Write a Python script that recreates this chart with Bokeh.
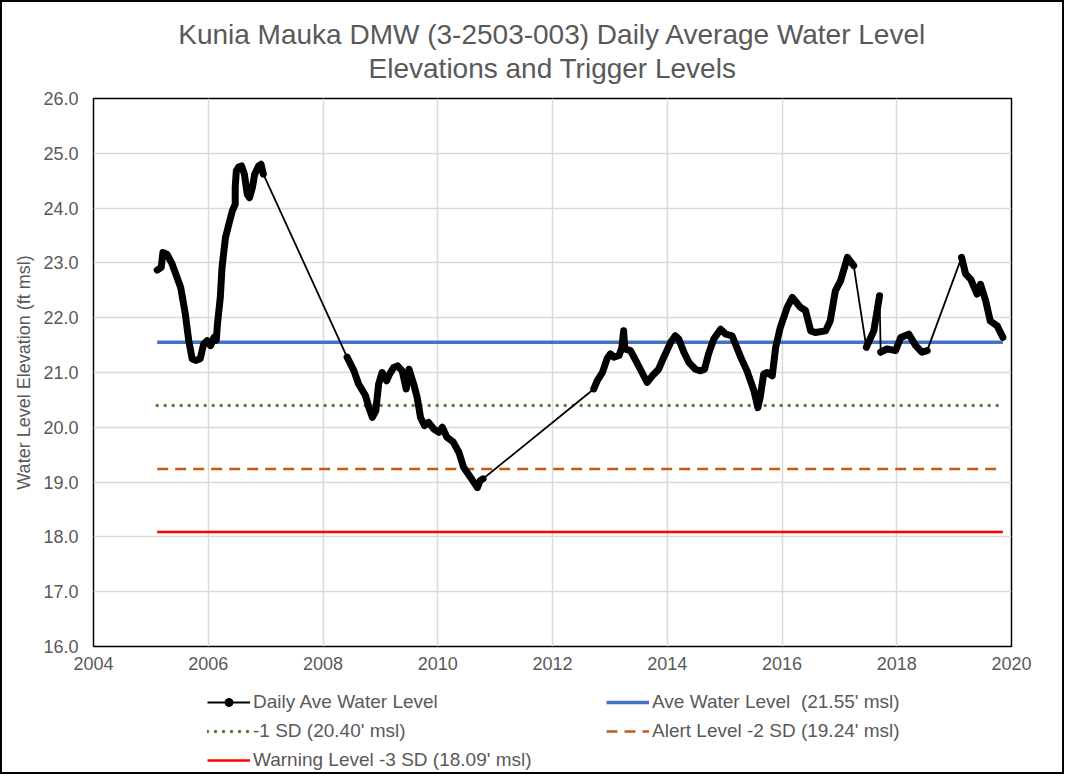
from bokeh.plotting import figure
from bokeh.layouts import column
from bokeh.models import Range1d, FixedTicker, NumeralTickFormatter, Legend, LegendItem, LinearAxis
from bokeh.embed import file_html
from bokeh.resources import INLINE

# ---------------- data ----------------
title_line1 = "Kunia Mauka DMW (3-2503-003) Daily Average Water Level"
title_line2 = "Elevations and Trigger Levels"
x_ticks = [2004, 2006, 2008, 2010, 2012, 2014, 2016, 2018, 2020]
y_ticks = [16, 17, 18, 19, 20, 21, 22, 23, 24, 25, 26]

ave_level = 21.55
sd1_level = 20.40
sd2_level = 19.24
sd3_level = 18.09

# measured daily record, split where the record has gaps (decimal year, ft msl)
seg1_year = [2005.11, 2005.18, 2005.21, 2005.28, 2005.37, 2005.52, 2005.60, 2005.66, 2005.72,
             2005.78, 2005.86, 2005.92, 2005.98, 2006.04, 2006.10, 2006.14, 2006.16, 2006.21,
             2006.24, 2006.30, 2006.36, 2006.42, 2006.47, 2006.47, 2006.49, 2006.53, 2006.58,
             2006.63, 2006.68, 2006.72, 2006.77, 2006.81, 2006.88, 2006.92, 2006.96]
seg1_level = [22.87, 22.92, 23.19, 23.16, 22.98, 22.55, 22.07, 21.58, 21.25,
              21.22, 21.25, 21.52, 21.58, 21.49, 21.64, 21.59, 21.88, 22.37,
              22.92, 23.46, 23.71, 23.95, 24.07, 24.38, 24.68, 24.75, 24.77,
              24.62, 24.25, 24.19, 24.38, 24.62, 24.77, 24.80, 24.62]

seg2_year = [2008.42, 2008.54, 2008.62, 2008.74, 2008.80, 2008.86, 2008.92, 2008.97, 2009.03,
             2009.11, 2009.16, 2009.23, 2009.30, 2009.38, 2009.45, 2009.50, 2009.58, 2009.64,
             2009.70, 2009.77, 2009.84, 2009.93, 2010.02, 2010.08, 2010.16, 2010.27, 2010.37,
             2010.45, 2010.57, 2010.69, 2010.74, 2010.79]
seg2_level = [21.28, 21.03, 20.79, 20.58, 20.36, 20.18, 20.30, 20.79, 21.00,
              20.85, 20.97, 21.09, 21.12, 21.03, 20.70, 21.06, 20.79, 20.55,
              20.18, 20.03, 20.09, 19.97, 19.91, 20.00, 19.82, 19.73, 19.54,
              19.27, 19.09, 18.90, 19.03, 19.06]

seg3_year = [2012.72, 2012.78, 2012.87, 2012.95, 2013.01, 2013.07, 2013.16, 2013.21, 2013.24,
             2013.26, 2013.36, 2013.45, 2013.56, 2013.65, 2013.74, 2013.85, 2013.94, 2014.06,
             2014.14, 2014.20, 2014.29, 2014.38, 2014.49, 2014.58, 2014.65, 2014.72, 2014.81,
             2014.93, 2015.02, 2015.13, 2015.28, 2015.39, 2015.51, 2015.58, 2015.62, 2015.68,
             2015.74, 2015.83, 2015.89, 2015.97, 2016.09, 2016.18, 2016.32, 2016.41, 2016.50,
             2016.58, 2016.76, 2016.84, 2016.93, 2017.02, 2017.14, 2017.25]
seg3_level = [20.70, 20.85, 21.00, 21.25, 21.34, 21.28, 21.31, 21.46, 21.76,
              21.43, 21.40, 21.22, 21.00, 20.82, 20.94, 21.06, 21.28, 21.55,
              21.67, 21.61, 21.37, 21.18, 21.06, 21.03, 21.06, 21.34, 21.61,
              21.79, 21.70, 21.67, 21.28, 21.03, 20.67, 20.36, 20.55, 20.97,
              21.00, 20.94, 21.46, 21.82, 22.19, 22.37, 22.19, 22.13, 21.76,
              21.73, 21.76, 21.94, 22.49, 22.67, 23.10, 22.95]

seg4_year = [2017.47, 2017.60, 2017.70]
seg4_level = [21.46, 21.76, 22.40]

seg5_year = [2017.72, 2017.83, 2017.98, 2018.07, 2018.21, 2018.33, 2018.44, 2018.53]
seg5_level = [21.37, 21.43, 21.40, 21.64, 21.70, 21.49, 21.37, 21.40]

seg6_year = [2019.13, 2019.20, 2019.29, 2019.40, 2019.46, 2019.55, 2019.63, 2019.75, 2019.85]
seg6_level = [23.10, 22.80, 22.70, 22.43, 22.61, 22.31, 21.94, 21.85, 21.64]

# ---------------- styles ----------------
GREY_TXT = "#595959"
FONT = "Liberation Sans"
C_DATA = "black"
C_AVE = "#4472c4"
C_SD1 = "#548235"
C_SD2 = "#c55a11"
C_SD3 = "#ff0000"

segments_year = [seg1_year, seg2_year, seg3_year, seg4_year, seg5_year, seg6_year]
segments_level = [seg1_level, seg2_level, seg3_level, seg4_level, seg5_level, seg6_level]
all_year = [v for s in segments_year for v in s]
all_level = [v for s in segments_level for v in s]
x0, x1 = all_year[0], all_year[-1]
span = [x0, x1]

# ---------------- main chart ----------------
p = figure(width=1060, height=676, output_backend="svg", toolbar_location=None,
           x_range=Range1d(2004, 2020), y_range=Range1d(16, 26),
           min_border_left=91, min_border_right=51, min_border_top=96, min_border_bottom=32)

# title: first line as the plot title, second line as a tick-less top axis caption
p.title.text = title_line1
p.title.align = "center"
p.title.text_font = FONT
p.title.text_font_size = "28px"
p.title.text_font_style = "normal"
p.title.text_color = GREY_TXT
p.title.standoff = 0

top_axis = LinearAxis(ticker=FixedTicker(ticks=[]), axis_label=title_line2)
top_axis.axis_line_color = None
top_axis.major_tick_line_color = None
top_axis.minor_tick_line_color = None
top_axis.major_tick_out = 0
top_axis.major_tick_in = 0
top_axis.minor_tick_out = 0
top_axis.major_label_standoff = 0
top_axis.axis_label_standoff = 15
top_axis.axis_label_text_font = FONT
top_axis.axis_label_text_font_size = "28px"
top_axis.axis_label_text_font_style = "normal"
top_axis.axis_label_text_color = GREY_TXT
p.add_layout(top_axis, "above")

p.outline_line_color = "black"
p.outline_line_width = 1.5

p.xaxis.ticker = FixedTicker(ticks=x_ticks)
top_axis.ticker = FixedTicker(ticks=[])
p.yaxis.ticker = FixedTicker(ticks=y_ticks)
p.yaxis.formatter = NumeralTickFormatter(format="0.0")
for ax in (p.below[0], p.yaxis[0]):
    ax.major_label_text_font = FONT
    ax.major_label_text_font_size = "18px"
    ax.major_label_text_color = GREY_TXT
    ax.major_tick_line_color = None
    ax.minor_tick_line_color = None
    ax.major_tick_out = 0
    ax.axis_line_color = None
p.yaxis.major_label_standoff = 15
p.below[0].major_label_standoff = 10
p.yaxis.axis_label = "Water Level Elevation (ft msl)"
p.yaxis.axis_label_text_font = FONT
p.yaxis.axis_label_text_font_size = "18px"
p.yaxis.axis_label_text_font_style = "normal"
p.yaxis.axis_label_text_color = GREY_TXT
p.yaxis.axis_label_standoff = 6

p.xgrid.ticker = FixedTicker(ticks=x_ticks)
p.ygrid.ticker = FixedTicker(ticks=y_ticks)
p.xgrid.grid_line_color = "#d9d9d9"
p.ygrid.grid_line_color = "#d9d9d9"
p.xgrid.grid_line_width = 1.5
p.ygrid.grid_line_width = 1.5


def draw_levels(fig):
    r_ave = fig.line(span, [ave_level] * 2, line_color=C_AVE, line_width=3.5)
    r_sd1 = fig.line(span, [sd1_level] * 2, line_color=C_SD1, line_width=3.5,
                     line_dash="0 8", line_cap="round")
    r_sd2 = fig.line(span, [sd2_level] * 2, line_color=C_SD2, line_width=2.5, line_dash="11 7")
    r_sd3 = fig.line(span, [sd3_level] * 2, line_color=C_SD3, line_width=2.5)
    return r_ave, r_sd1, r_sd2, r_sd3


def draw_record(fig):
    r_thin = fig.line(all_year, all_level, line_color=C_DATA, line_width=1.8)
    r_dots = fig.scatter(all_year, all_level, size=5, color=C_DATA)
    return r_thin, r_dots


draw_levels(p)
p.multi_line(segments_year, segments_level, line_color=C_DATA, line_width=7,
             line_join="round", line_cap="round")
draw_record(p)

# ---------------- legend strip (same series, outside its own view) ----------------
lg = figure(width=1060, height=94, output_backend="svg", toolbar_location=None,
            x_axis_type=None, y_axis_type=None, min_border=0,
            x_range=Range1d(0, 1), y_range=Range1d(0, 1))
lg.outline_line_color = None
lg.grid.visible = False
l_ave, l_sd1, l_sd2, l_sd3 = draw_levels(lg)
l_thin, l_dots = draw_record(lg)


def style_legend(leg):
    leg.label_text_font = FONT
    leg.label_text_font_size = "19px"
    leg.label_text_color = GREY_TXT
    leg.border_line_color = None
    leg.background_fill_alpha = 0
    leg.padding = 0
    leg.margin = 0
    leg.spacing = 7
    leg.glyph_width = 43
    leg.glyph_height = 20
    leg.label_height = 20
    leg.label_standoff = 3


leg1 = Legend(items=[
    LegendItem(label="Daily Ave Water Level", renderers=[l_thin, l_dots]),
    LegendItem(label=f"-1 SD ({sd1_level:.2f}' msl)", renderers=[l_sd1]),
    LegendItem(label=f"Warning Level -3 SD ({sd3_level:.2f}' msl)", renderers=[l_sd3]),
], location=(114, 1))
leg2 = Legend(items=[
    LegendItem(label=f"Ave Water Level  ({ave_level:.2f}' msl)", renderers=[l_ave]),
    LegendItem(label=f"Alert Level -2 SD ({sd2_level:.2f}' msl)", renderers=[l_sd2]),
], location=(513, 30))
for L in (leg1, leg2):
    style_legend(L)
    lg.add_layout(L, "center")

layout = column(p, lg, spacing=0, styles={"border": "2px solid black"})

open("out.html", "w").write(file_html(layout, INLINE))
